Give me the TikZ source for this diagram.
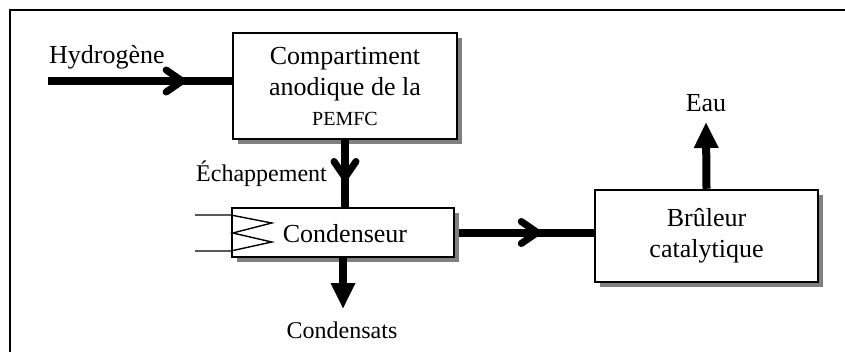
\documentclass[tikz,border=0pt]{standalone}
\usepackage{fontspec}
\setmainfont{Liberation Serif}
\usetikzlibrary{arrows.meta,shadows,decorations.markings,calc}
\tikzset{
  procbox/.style={draw=black, line width=2.5pt, fill=white, align=center,
    font=\fontsize{26}{31}\selectfont,
    drop shadow={shadow xshift=5pt, shadow yshift=-5pt, fill=black!50, opacity=1}},
  flow/.style={line width=8pt},
  midchevron/.style={postaction={decorate}, decoration={markings,
    mark=at position #1 with {\draw[line width=7pt, line cap=round, line join=round]
      (-16pt,-11pt) -- (0pt,0pt) -- (-16pt,11pt);}}},
  solidhead/.style={-{Triangle[length=26pt,width=23pt]}},
  lbl/.style={font=\fontsize{26}{30}\selectfont, inner sep=0pt},
  smalllbl/.style={font=\fontsize{24}{28}\selectfont, inner sep=0pt},
  coil/.style={line width=1.4pt, line join=miter}
}
\begin{document}
\begin{tikzpicture}[x=1pt,y=-1pt]
\useasboundingbox (0,0) rectangle (845,351);
\fill[white] (0,0) rectangle (845,351);
% outer frame (cut off at right and bottom)
\draw[line width=1.3pt] (10,360) -- (10,10) -- (860,10);

% boxes
\node[procbox, minimum width=224pt, minimum height=106pt] (anode) at (345,86)
  {Compartiment\\anodique de la\\[-1pt]{\fontsize{20}{23}\selectfont PEMFC}};
\node[procbox, minimum width=222pt, minimum height=49pt, text depth=0pt] (cond) at (343,232.5) {};
\node[lbl, anchor=base] (condtxt) at (345,242) {Condenseur};
\node[procbox, minimum width=223pt, minimum height=92pt] (brul) at (706.5,236)
  {Br\^uleur\\catalytique};

% labels
\node[lbl, anchor=base west] (h2) at (49,63) {Hydrog\`ene};
\node[smalllbl, anchor=base east] (ech) at (327,181) {\'Echappement};
\node[smalllbl, anchor=base] (condensats) at (342,338) {Condensats};
\node[lbl, anchor=base] (eau) at (706,111) {Eau};

% hydrogen inlet
\coordinate (h2start) at (48,81);
\draw[flow, midchevron=0.73] (h2start) -- (anode.west |- h2start);
% exhaust to condenser
\draw[flow, midchevron=0.56] (anode.south) -- (anode.south |- cond.north);
% condenser to burner
\draw[flow, midchevron=0.58] ($(cond.east)+(4,0)$) -- (brul.west |- cond.east);
% condensates
\coordinate (condout) at (343,309);
\draw[flow, solidhead] (cond.south) -- (condout);
% water out
\coordinate (eauout) at (706,122);
\draw[flow, solidhead] (brul.north) -- (eauout);

% cooling coil of condenser
\coordinate (cA) at (195,215);
\coordinate (cB) at (195,251);
\draw[coil] (cA) -- (cond.west |- cA) -- ($(cond.west |- cA)+(41,8)$)
  -- ($(cond.west |- cA)+(2,18)$) -- ($(cond.west |- cA)+(41,27)$) -- (cond.west |- cB) -- (cB);
\end{tikzpicture}
\end{document}
